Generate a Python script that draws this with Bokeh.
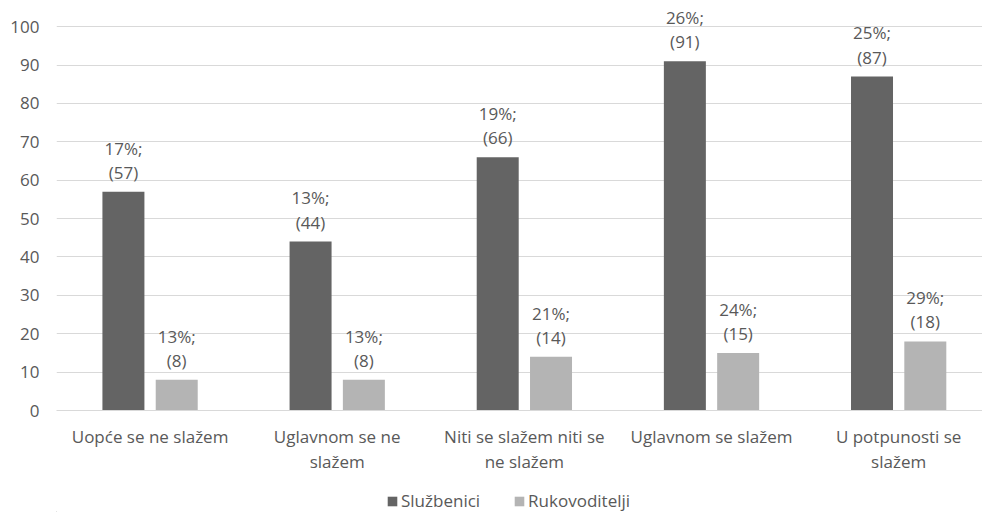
from bokeh.plotting import figure
from bokeh.layouts import column
from bokeh.models import ColumnDataSource, FixedTicker, Legend, LegendItem, Range1d
from bokeh.core.properties import value
from bokeh.embed import file_html
from bokeh.resources import INLINE

categories = ["Uopće se ne slažem", "Uglavnom se ne\nslažem", "Niti se slažem niti se\nne slažem",
              "Uglavnom se slažem", "U potpunosti se\nslažem"]
series = ["Službenici", "Rukovoditelji"]
sluzbenici = [57, 44, 66, 91, 87]
sluzbenici_pct = [17, 13, 19, 26, 25]
rukovoditelji = [8, 8, 14, 15, 18]
rukovoditelji_pct = [13, 13, 21, 24, 29]
y_ticks = list(range(0, 101, 10))

colors = ["#646464", "#b4b4b4"]
FONT = "Open Sans"
FS = "17px"
TXT = "#595959"

n = len(categories)
centers = [i + 0.5 for i in range(n)]
offset = 0.1424
bar_w = 0.2244

W = 982
p = figure(width=W, height=478, x_range=Range1d(0, 4.948), y_range=Range1d(0, 105),
           output_backend="svg", toolbar_location=None,
           min_border_left=56, min_border_right=0, min_border_top=7, min_border_bottom=68)
p.outline_line_color = None
p.background_fill_color = "white"
p.border_fill_color = "white"

renderers = []
for vals, pcts, col, sign in [(sluzbenici, sluzbenici_pct, colors[0], -1),
                               (rukovoditelji, rukovoditelji_pct, colors[1], 1)]:
    xs = [c + sign * offset for c in centers]
    src = ColumnDataSource(dict(x=xs, top=vals,
                                label=[f"{pc}%;\n({v})" for pc, v in zip(pcts, vals)]))
    r = p.vbar(x="x", top="top", bottom=0, width=bar_w, source=src, fill_color=col, line_color=None)
    renderers.append(r)
    p.text(x="x", y="top", text="label", source=src, text_align="center", text_baseline="bottom",
           y_offset=-8, text_font=value(FONT), text_font_size=FS, text_color=TXT,
           text_line_height=1.05)

p.xgrid.grid_line_color = None
p.ygrid.grid_line_color = "#d9d9d9"
p.ygrid.grid_line_width = 1
p.yaxis.ticker = FixedTicker(ticks=y_ticks)
p.yaxis.axis_line_color = None
p.yaxis.major_tick_line_color = None
p.yaxis.minor_tick_line_color = None
p.yaxis.major_label_text_font = FONT
p.yaxis.major_label_text_font_size = FS
p.yaxis.major_label_text_color = TXT
p.yaxis.major_label_standoff = 11

p.xaxis.ticker = FixedTicker(ticks=centers)
p.xaxis.major_label_overrides = {c: lab for c, lab in zip(centers, categories)}
p.xaxis.axis_line_color = "#d9d9d9"
p.xaxis.major_tick_line_color = None
p.xaxis.minor_tick_line_color = None
p.xaxis.major_label_text_font = FONT
p.xaxis.major_label_text_font_size = FS
p.xaxis.major_label_text_color = TXT
p.xaxis.major_label_standoff = 8
p.xaxis.major_label_text_line_height = 1.13

# legend strip
lg = figure(width=W, height=34, x_range=Range1d(0, W), y_range=Range1d(0, 34),
            output_backend="svg", toolbar_location=None,
            min_border_left=0, min_border_right=0, min_border_top=0, min_border_bottom=0)
lg.axis.visible = False
lg.grid.grid_line_color = None
lg.outline_line_color = None
lg_rs = [lg.vbar(x=[-1000], top=[1], width=1, fill_color=c, line_color=None) for c in colors]
legend = Legend(items=[LegendItem(label=s, renderers=[r]) for s, r in zip(series, lg_rs)],
                orientation="horizontal", location=(330, 0),
                label_text_font=FONT, label_text_font_size=FS, label_text_color=TXT,
                glyph_width=12, glyph_height=12, label_standoff=3, spacing=33,
                border_line_color=None, background_fill_alpha=0, margin=0, padding=0)
lg.add_layout(legend, "center")

layout = column(p, lg, spacing=0)
open("out.html", "w").write(file_html(layout, INLINE))
